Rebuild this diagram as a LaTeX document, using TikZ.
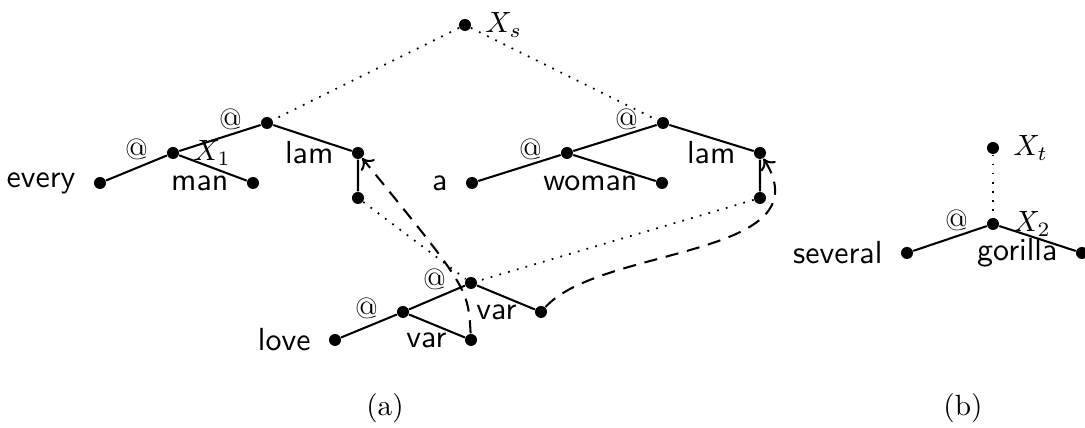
\documentclass[tikz,border=0pt]{standalone}
\usepackage{amsmath}
\usepackage{tikz}
\usetikzlibrary{arrows.meta}

\begin{document}
\begin{tikzpicture}[
  x=0.12cm, y=0.12cm,
  dot/.style={circle, fill=black, inner sep=0pt, minimum size=4.1pt},
  word/.style={dot, label={[font=\sffamily\fontsize{10.9}{13}\selectfont, label distance=2.6pt]left:#1}},
  app/.style={dot, label={[label distance=2.8pt, yshift=1.2pt]left:@}},
  xlab/.style={label={[label distance=1.2pt]right:$#1$}},
  branch/.style={line width=0.7pt},
  link/.style={dash pattern=on 0.6pt off 2.5pt, line width=0.6pt},
  bind/.style={-{To[length=3.4pt,width=6pt]}, dash pattern=on 4.5pt off 3pt, line width=0.7pt},
  caption/.style={font=\normalsize},
]
% Coordinates: 1 unit = 10 px of the 1085 x 428 frame, y measured upwards.
\useasboundingbox (0,0) rectangle (108.5,42.8);

% ─── (a) root ──────────────────────────────────────────────────────────────
\node[dot, xlab=X_s] (xs) at (46.5, 40.3) {};

% ─── every man (lam ...) ───────────────────────────────────────────────────
\node[word=every] (every) at (10.0, 24.5) {};
\node[app, xlab=X_1] (evA) at (17.3, 27.5) {};
\node[word=man]   (man)   at (25.3, 24.5) {};
\node[app]        (evB)   at (26.7, 30.5) {};
\node[word=lam]   (evlam) at (35.8, 27.5) {};
\node[dot]        (evbody) at (35.8, 23.0) {};

\draw[branch] (every) -- (evA) -- (man);
\draw[branch] (evA) -- (evB) -- (evlam) -- (evbody);

% ─── a woman (lam ...) ─────────────────────────────────────────────────────
\node[word=a]     (a)     at (47.2, 24.5) {};
\node[app]        (waA)   at (56.7, 27.5) {};
\node[word=woman] (woman) at (66.2, 24.5) {};
\node[app]        (waB)   at (66.3, 30.5) {};
\node[word=lam]   (walam) at (76.0, 27.5) {};
\node[dot]        (wabody) at (76.0, 23.0) {};

\draw[branch] (a) -- (waA) -- (woman);
\draw[branch] (waA) -- (waB) -- (walam) -- (wabody);

% ─── love var var ──────────────────────────────────────────────────────────
\node[word=love] (love) at (33.5, 8.8) {};
\node[app]       (loA)  at (40.3, 11.6) {};
\node[word=var]  (varA) at (47.1, 8.8) {};
\node[app]       (loB)  at (47.1, 14.5) {};
\node[word=var]  (varB) at (54.1, 11.6) {};

\draw[branch] (love) -- (loA) -- (varA);
\draw[branch] (loA) -- (loB) -- (varB);

% Sharing links
\draw[link] (xs) -- (evB);
\draw[link] (xs) -- (waB);
\draw[link] (evbody) -- (loB);
\draw[link] (wabody) -- (loB);

% Variable bindings
\draw[bind] (varA) .. controls +(-0.3,5.2) .. (evlam);
\draw[bind] (varB) .. controls +(6,6.6) and +(6.6,-10.5) .. (walam);

% ─── (b) several gorilla ───────────────────────────────────────────────────
\node[dot, xlab=X_t] (xt) at (99.3, 28.0) {};
\node[app, xlab=X_2] (goA) at (99.3, 20.4) {};
\node[word=several] (several) at (90.7, 17.5) {};
\node[word=gorilla] (gorilla) at (108.2, 17.5) {};

\draw[branch] (several) -- (goA) -- (gorilla);
\draw[link] (xt) -- (goA);

% Captions
\node[caption] (capa) at (38.5, 2.0) {(a)};
\node[caption] (capb) at (96.3, 2.0) {(b)};

\end{tikzpicture}
\end{document}
